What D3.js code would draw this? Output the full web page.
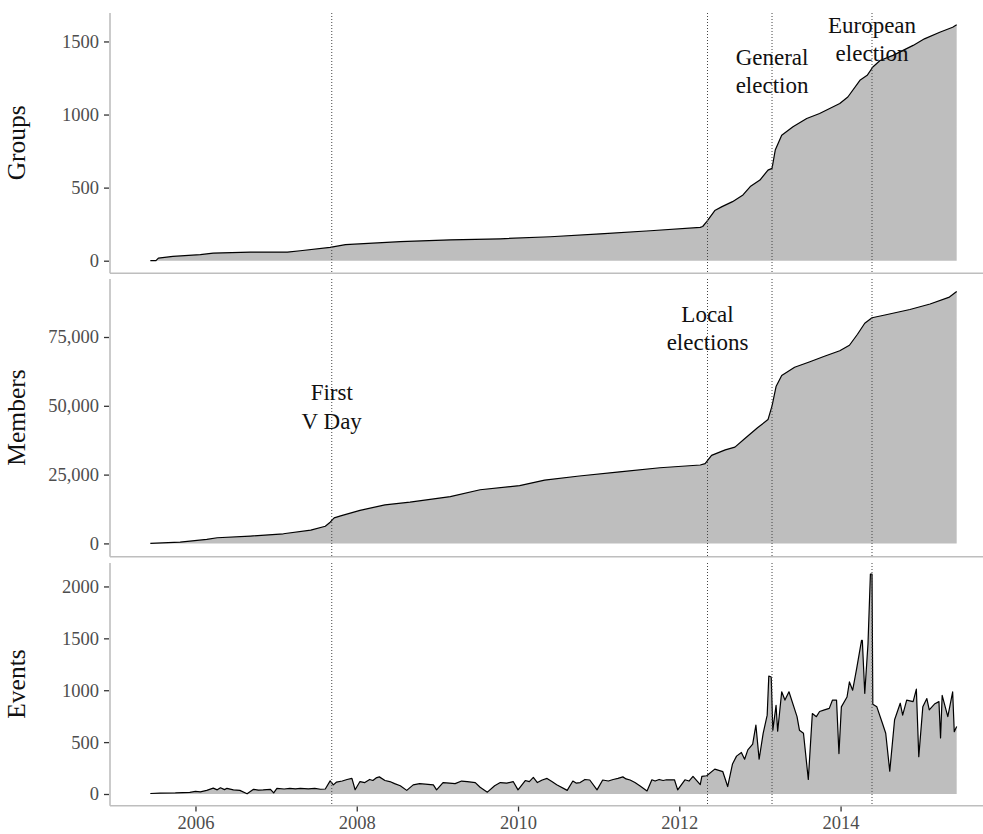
<!DOCTYPE html>
<html><head><meta charset="utf-8">
<script src="https://cdn.jsdelivr.net/npm/d3@7"></script>
<style>
body{margin:0;background:#fff;}
svg{display:block;font-family:"Liberation Serif","Times New Roman",serif;}
</style></head>
<body><svg id="c" width="983" height="834"></svg>
<script>
// ---- data (decimal year, value) ----
const groupsData = [[2005.44,0],[2005.51,0],[2005.54,18],[2005.72,29],[2006.06,41],[2006.22,52],[2006.68,59],[2007.14,59],[2007.30,68],[2007.67,91],[2007.86,110],[2008.54,130],[2009.16,143],[2009.78,150],[2010.40,164],[2011.02,184],[2011.64,205],[2012.26,228],[2012.29,234],[2012.34,268],[2012.44,343],[2012.53,370],[2012.66,404],[2012.79,450],[2012.88,507],[2013.00,552],[2013.10,620],[2013.15,632],[2013.19,757],[2013.27,859],[2013.41,916],[2013.58,973],[2013.74,1007],[2013.99,1075],[2014.09,1120],[2014.24,1234],[2014.33,1268],[2014.40,1325],[2014.49,1370],[2014.65,1405],[2014.90,1473],[2015.04,1518],[2015.23,1563],[2015.39,1597],[2015.44,1614]];
const membersData = [[2005.44,0],[2005.81,470],[2006.14,1450],[2006.27,2060],[2006.68,2650],[2007.09,3500],[2007.43,4800],[2007.61,6250],[2007.67,7700],[2007.72,9300],[2007.80,10000],[2008.04,12000],[2008.35,14000],[2008.66,15000],[2009.16,17000],[2009.53,19500],[2010.02,21000],[2010.33,23000],[2010.76,24500],[2011.26,26000],[2011.76,27500],[2012.26,28500],[2012.32,29000],[2012.40,32000],[2012.57,34000],[2012.69,35000],[2012.81,38000],[2012.97,42000],[2013.10,45000],[2013.15,50000],[2013.20,57000],[2013.27,61000],[2013.43,64000],[2013.62,66000],[2013.80,68000],[2013.99,70000],[2014.11,72000],[2014.21,76000],[2014.30,80000],[2014.39,82000],[2014.55,83000],[2014.86,85000],[2015.11,87000],[2015.35,89500],[2015.44,91500]];
const eventsData = [[2005.44,5],[2005.56,8],[2005.75,10],[2005.93,15],[2006.00,25],[2006.06,20],[2006.14,35],[2006.22,57],[2006.27,40],[2006.31,60],[2006.36,42],[2006.39,55],[2006.47,40],[2006.55,35],[2006.64,2],[2006.72,45],[2006.78,38],[2006.84,40],[2006.93,45],[2006.97,10],[2007.01,55],[2007.10,48],[2007.17,55],[2007.24,50],[2007.30,54],[2007.40,49],[2007.48,55],[2007.55,46],[2007.61,48],[2007.67,127],[2007.71,88],[2007.75,115],[2007.82,125],[2007.88,140],[2007.94,150],[2007.98,41],[2008.04,120],[2008.10,110],[2008.16,140],[2008.20,130],[2008.24,155],[2008.28,165],[2008.35,130],[2008.41,120],[2008.47,100],[2008.54,80],[2008.62,35],[2008.70,88],[2008.78,100],[2008.85,95],[2008.95,88],[2008.99,40],[2009.07,110],[2009.15,105],[2009.22,100],[2009.30,125],[2009.37,120],[2009.47,110],[2009.53,65],[2009.62,18],[2009.71,80],[2009.78,110],[2009.86,105],[2009.94,120],[2010.00,40],[2010.09,130],[2010.14,120],[2010.19,160],[2010.24,110],[2010.30,135],[2010.36,150],[2010.42,120],[2010.48,90],[2010.61,35],[2010.68,125],[2010.72,105],[2010.77,110],[2010.83,140],[2010.89,135],[2010.98,40],[2011.05,135],[2011.12,125],[2011.18,140],[2011.24,150],[2011.30,165],[2011.34,145],[2011.39,135],[2011.45,110],[2011.51,80],[2011.60,30],[2011.66,137],[2011.70,125],[2011.75,140],[2011.80,130],[2011.84,137],[2011.94,137],[2011.98,40],[2012.07,137],[2012.12,125],[2012.17,170],[2012.26,90],[2012.28,170],[2012.34,176],[2012.44,240],[2012.54,215],[2012.60,72],[2012.66,290],[2012.71,365],[2012.77,400],[2012.81,335],[2012.85,425],[2012.91,480],[2012.95,665],[2012.99,335],[2013.04,585],[2013.09,760],[2013.11,1137],[2013.14,1128],[2013.16,615],[2013.20,855],[2013.22,605],[2013.27,985],[2013.31,905],[2013.36,985],[2013.46,745],[2013.49,615],[2013.54,585],[2013.60,140],[2013.65,775],[2013.70,745],[2013.74,795],[2013.80,810],[2013.86,825],[2013.90,905],[2013.95,905],[2013.98,390],[2014.01,840],[2014.08,935],[2014.11,1080],[2014.15,1000],[2014.20,1210],[2014.26,1480],[2014.27,1480],[2014.30,970],[2014.34,1445],[2014.37,2120],[2014.39,2120],[2014.40,865],[2014.45,840],[2014.52,680],[2014.56,585],[2014.61,220],[2014.67,715],[2014.74,875],[2014.77,760],[2014.82,905],[2014.90,890],[2014.94,1010],[2014.97,360],[2015.02,840],[2015.07,920],[2015.10,810],[2015.17,870],[2015.22,890],[2015.24,540],[2015.26,950],[2015.33,745],[2015.39,985],[2015.41,600],[2015.44,650]];

const panelNames = ["Groups","Members","Events"];
const groupsTicks = [0,500,1000,1500];
const membersTicks = [0,25000,50000,75000];
const eventsTicks = [0,500,1000,1500,2000];
const xTicks = [2006,2008,2010,2012,2014];
const eventDates = [2007.69,2012.35,2013.15,2014.39]; // V Day, local, general, European
const annotations = [
  {panel:1, date:2007.69, lines:["First","V Day"], value:52000},
  {panel:1, date:2012.35, lines:["Local","elections"], value:80500},
  {panel:0, date:2013.15, lines:["General","election"], value:1340},
  {panel:0, date:2014.39, lines:["European","election"], value:1560}
];

// ---- layout ----
const svg = d3.select("#c");
const left = 110, right = 997;
const panels = [
  {name:panelNames[0], data:groupsData, ticks:groupsTicks, fmt:d3.format("d"), top:13, bottom:272.5},
  {name:panelNames[1], data:membersData, ticks:membersTicks, fmt:d3.format(","), top:279, bottom:556},
  {name:panelNames[2], data:eventsData, ticks:eventsTicks, fmt:d3.format("d"), top:563, bottom:805}
];

const xExt = d3.extent(groupsData, d=>d[0]);
const xPad = (xExt[1]-xExt[0])*0.05;
const x = d3.scaleLinear().domain([xExt[0]-xPad, xExt[1]+xPad]).range([left, right]);

const axisGrey = "#bebebe";
const tickCol = "#333";
const labCol = "#4d4d4d";

panels.forEach((p,i)=>{
  const ymax = d3.max(p.data, d=>d[1]);
  const pad = ymax*0.05;
  const y = d3.scaleLinear().domain([-pad, ymax+pad]).range([p.bottom, p.top]);
  p.y = y;
  const g = svg.append("g");
  const area = d3.area().x(d=>x(d[0])).y0(y(0)).y1(d=>y(d[1]));
  const line = d3.line().x(d=>x(d[0])).y(d=>y(d[1]));
  g.append("path").datum(p.data).attr("d", area).attr("fill","#bebebe");
  g.append("path").datum(p.data).attr("d", line).attr("fill","none").attr("stroke","#000").attr("stroke-width",1.2).attr("stroke-linejoin","round");
  // vertical event lines
  eventDates.forEach(dt=>{
    g.append("line").attr("x1",x(dt)).attr("x2",x(dt)).attr("y1",p.top).attr("y2",p.bottom)
      .attr("stroke","#444").attr("stroke-width",1).attr("stroke-dasharray","1,2");
  });
  // y axis
  const ya = d3.axisLeft(y).tickValues(p.ticks).tickFormat(p.fmt).tickSize(5).tickPadding(5);
  const ag = g.append("g").attr("transform",`translate(${left-1},0)`).call(ya);
  ag.select(".domain").remove();
  ag.selectAll(".tick line").attr("stroke",tickCol).attr("stroke-width",1.3);
  ag.selectAll(".tick text").attr("fill",labCol).style("font-size","18.5px").style("font-family","Liberation Serif");
  // axis lines
  g.append("line").attr("x1",left).attr("x2",left).attr("y1",p.top).attr("y2",p.bottom+0.75)
    .attr("stroke",axisGrey).attr("stroke-width",1.6);
  g.append("line").attr("x1",left).attr("x2",990).attr("y1",p.bottom+0.75).attr("y2",p.bottom+0.75)
    .attr("stroke",axisGrey).attr("stroke-width",1.6);
  // title
  g.append("text").attr("transform",`translate(25,${(p.top+p.bottom)/2}) rotate(-90)`)
    .attr("text-anchor","middle").style("font-size","25.5px").attr("fill","#111").text(p.name);
  if(i===2){
    const xa = d3.axisBottom(x).tickValues(xTicks).tickFormat(d3.format("d")).tickSize(5).tickPadding(4);
    const xg = g.append("g").attr("transform",`translate(0,${p.bottom+1.5})`).call(xa);
    xg.select(".domain").remove();
    xg.selectAll(".tick line").attr("stroke",tickCol).attr("stroke-width",1.3);
    xg.selectAll(".tick text").attr("fill",labCol).style("font-size","18.5px").style("font-family","Liberation Serif");
  }
});

// annotations
annotations.forEach(a=>{
  const p = panels[a.panel];
  const t = svg.append("text").attr("text-anchor","middle").style("font-size","23px").attr("fill","#111");
  a.lines.forEach((l,k)=>{
    t.append("tspan").attr("x", x(a.date)).attr("y", p.y(a.value) + k*28.5).text(l);
  });
});
</script></body></html>
